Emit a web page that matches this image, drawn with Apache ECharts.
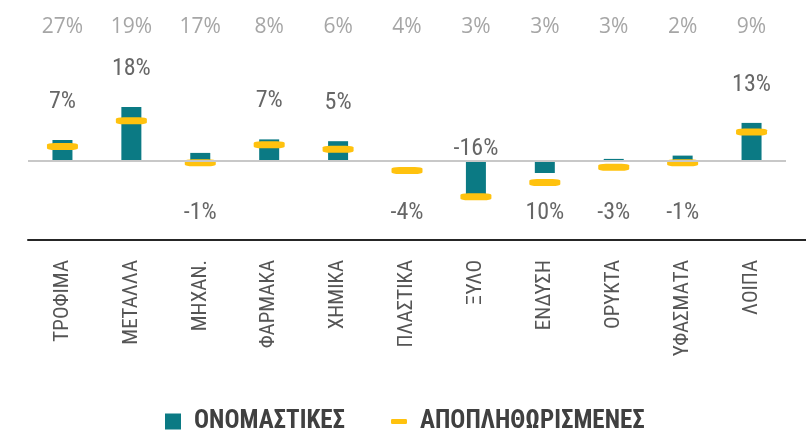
<!DOCTYPE html>
<html>
<head>
<meta charset="utf-8">
<script src="https://cdn.jsdelivr.net/npm/echarts@6/dist/echarts.min.js"></script>
<style>
  html, body { margin: 0; padding: 0; background: #fff; }
  #chart { width: 806px; height: 431px; }
</style>
</head>
<body>
<div id="chart"></div>
<script>
const categories = ["ΤΡΟΦΙΜΑ", "ΜΕΤΑΛΛΑ", "ΜΗΧΑΝ.", "ΦΑΡΜΑΚΑ", "ΧΗΜΙΚΑ", "ΠΛΑΣΤΙΚΑ", "ΞΥΛΟ", "ΕΝΔΥΣΗ", "ΟΡΥΚΤΑ", "ΥΦΑΣΜΑΤΑ", "ΛΟΙΠΑ"];
const shares = [27, 19, 17, 8, 6, 4, 3, 3, 3, 2, 9];
const nominal = [7, 18, 2.7, 7.2, 6.6, 0, -11.8, -4, 0.7, 1.8, 12.7];
const deflated = [4.8, 13.4, -0.6, 5.4, 3.9, -3.2, -11.9, -7.2, -2.1, -0.6, 9.7];
const labelValues = [7, 18, -1, 7, 5, -4, -16, 10, -3, -1, 13];

const teal = "#0b7a84";
const yellow = "#ffc20e";
const narrow = "'Roboto Condensed', 'DejaVu Sans Condensed', sans-serif";

const chart = echarts.init(document.getElementById("chart"));

// label anchors: above the bar when positive, below the zero line otherwise
const labelPoints = categories.map((c, i) => {
  const positive = nominal[i] > 0 && labelValues[i] > 0;
  const deep = nominal[i] < -8;
  const anchor = positive ? nominal[i] : (deep ? 0 : -17.3);
  return {
    value: [i, anchor],
    label: positive || deep
      ? { position: "top", distance: positive ? 26 : 0 }
      : { position: "inside" },
  };
});

chart.setOption({
  animation: false,
  grid: { left: 28, right: 20, top: 71, bottom: 191 },
  legend: [
    {
      data: [{ name: "ΟΝΟΜΑΣΤΙΚΕΣ", icon: "rect" }],
      left: 165, top: 409, padding: 0,
      itemWidth: 16, itemHeight: 16,
      textStyle: { color: "#404040", fontSize: 25, fontWeight: "bold", fontFamily: narrow, padding: [0, 0, 0, 8] },
    },
    {
      data: [{ name: "ΑΠΟΠΛΗΘΩΡΙΣΜΕΝΕΣ", icon: "roundRect" }],
      left: 391, top: 409, padding: 0,
      itemWidth: 16, itemHeight: 5,
      textStyle: { color: "#404040", fontSize: 25, fontWeight: "bold", fontFamily: narrow, padding: [0, 0, 0, 8] },
    },
  ],
  xAxis: [
    {
      type: "category",
      data: categories,
      position: "bottom",
      axisLine: { onZero: false, lineStyle: { color: "#262626", width: 2 } },
      axisTick: { show: false },
      axisLabel: { rotate: 90, margin: 20, color: "#555555", fontSize: 21, fontFamily: narrow, interval: 0 },
    },
    {
      type: "category",
      data: categories,
      position: "top",
      axisLine: { show: false },
      axisTick: { show: false },
      axisLabel: {
        margin: 33, color: "#a6a6a6", fontSize: 21, fontFamily: "'Open Sans', sans-serif", interval: 0,
        formatter: (v, i) => shares[i] + "%",
      },
    },
  ],
  yAxis: { type: "value", min: -79 / 3, max: 30, show: false, splitLine: { show: false } },
  series: [
    {
      name: "ΟΝΟΜΑΣΤΙΚΕΣ",
      type: "bar",
      data: nominal,
      barWidth: 20,
      itemStyle: { color: teal },
      markLine: {
        silent: true,
        symbol: "none",
        label: { show: false },
        lineStyle: { color: "#c8c8c8", width: 2, type: "solid" },
        data: [{ yAxis: 0 }],
      },
      z: 2,
    },
    {
      name: "ΑΠΟΠΛΗΘΩΡΙΣΜΕΝΕΣ",
      type: "scatter",
      data: deflated,
      symbol: "roundRect",
      symbolSize: [31, 7],
      itemStyle: { color: yellow, opacity: 1 },
      z: 4,
    },
    {
      name: "labels",
      type: "scatter",
      data: labelPoints,
      symbolSize: 0,
      silent: true,
      label: {
        show: true,
        color: "#404040",
        fontSize: 24,
        fontFamily: narrow,
        formatter: (p) => labelValues[p.dataIndex] + "%",
      },
      z: 5,
    },
  ],
  graphic: [
    {
      type: "line",
      shape: { x1: 785, y1: 240, x2: 806, y2: 240 },
      style: { stroke: "#262626", lineWidth: 2 },
    },
  ],
});
</script>
</body>
</html>
